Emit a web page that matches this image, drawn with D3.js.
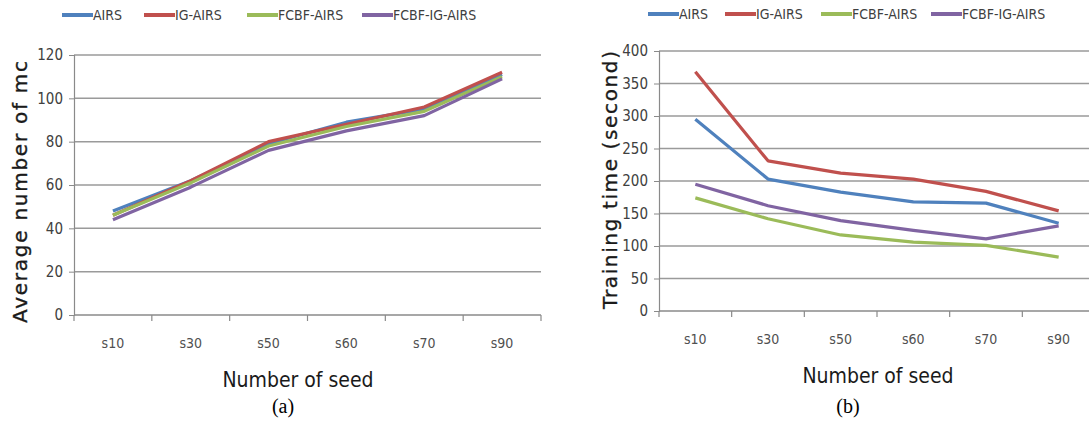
<!DOCTYPE html>
<html>
<head>
<meta charset="utf-8">
<script src="https://cdn.jsdelivr.net/npm/d3@7"></script>
<style>
  body { margin: 0; background: #fff; }
  svg { display: block; }
  .narrow { font-family: "Liberation Sans Narrow", "DejaVu Sans Condensed", "DejaVu Sans", sans-serif; font-stretch: condensed; }
</style>
</head>
<body>
<svg id="chart" width="1089" height="421"></svg>
<script>
// categories (x axis)
var seeds = ["s10", "s30", "s50", "s60", "s70", "s90"];
var seriesNames = ["AIRS", "IG-AIRS", "FCBF-AIRS", "FCBF-IG-AIRS"];
var seriesColors = ["#4F81BD", "#C0504D", "#9BBB59", "#8064A2"];

// (a) average number of mc
var mcAIRS       = [48, 62, 79, 89, 95, 111];
var mcIGAIRS     = [46, 62, 80, 88, 96, 112];
var mcFCBFAIRS   = [46, 61, 78, 87, 94, 110];
var mcFCBFIGAIRS = [44, 59, 76, 85, 92, 109];

// (b) training time (second)
var ttAIRS       = [295, 203, 183, 168, 166, 135];
var ttIGAIRS     = [368, 231, 212, 203, 184, 154];
var ttFCBFAIRS   = [174, 142, 117, 106, 101, 83];
var ttFCBFIGAIRS = [195, 162, 139, 124, 111, 131];

var mcTicks = [0, 20, 40, 60, 80, 100, 120];
var ttTicks = [0, 50, 100, 150, 200, 250, 300, 350, 400];

var svg = d3.select("#chart");

function draw(cfg) {
  var g = svg.append("g");
  var x = d3.scaleBand().domain(seeds).range([cfg.left, cfg.right]);
  var y = d3.scaleLinear().domain([0, cfg.max]).range([cfg.bottom, cfg.top]);

  // gridlines
  g.selectAll(".grid").data(cfg.ticks.slice(1)).enter().append("line")
    .attr("x1", cfg.left).attr("x2", cfg.gridEnd)
    .attr("y1", d => y(d)).attr("y2", d => y(d))
    .attr("stroke", "#9a9a9a").attr("stroke-width", 1.5);

  // y axis
  var ya = g.append("g")
    .attr("transform", "translate(" + cfg.left + ",0)")
    .call(d3.axisLeft(y).tickValues(cfg.ticks).tickSize(5).tickPadding(6));
  ya.select(".domain").attr("stroke", "#8a8a8a").attr("stroke-width", 1.2);
  ya.selectAll(".tick line").attr("stroke", "#8a8a8a");
  ya.selectAll("text").attr("class", "narrow").attr("font-size", 15)
    .attr("fill", "#404040").style("font-family", null);

  // x axis line + boundary ticks
  g.append("line").attr("x1", cfg.left).attr("x2", cfg.gridEnd)
    .attr("y1", cfg.bottom).attr("y2", cfg.bottom)
    .attr("stroke", "#8a8a8a").attr("stroke-width", 1.5);
  var bounds = seeds.map(d => x(d)).concat([x.range()[1]]);
  g.selectAll(".xt").data(bounds).enter().append("line")
    .attr("x1", d => d).attr("x2", d => d)
    .attr("y1", cfg.bottom).attr("y2", cfg.bottom + 6)
    .attr("stroke", "#8a8a8a").attr("stroke-width", 1.2);
  g.selectAll(".xl").data(seeds).enter().append("text")
    .attr("class", "narrow")
    .attr("x", d => x(d) + x.bandwidth() / 2)
    .attr("y", cfg.bottom + 33)
    .attr("text-anchor", "middle").attr("font-size", 14).attr("fill", "#505050")
    .text(d => d);

  // series lines
  var line = d3.line().x((d, i) => x(seeds[i]) + x.bandwidth() / 2).y(d => y(d));
  cfg.series.forEach(function(s, i) {
    g.append("path").datum(s)
      .attr("d", line).attr("fill", "none")
      .attr("stroke", seriesColors[i]).attr("stroke-width", 3.2)
      .attr("stroke-linejoin", "round");
  });

  // legend
  seriesNames.forEach(function(n, i) {
    var lx = cfg.legendX[i];
    g.append("line").attr("x1", lx).attr("x2", lx + 31)
      .attr("y1", cfg.legendY).attr("y2", cfg.legendY)
      .attr("stroke", seriesColors[i]).attr("stroke-width", 4);
    g.append("text").attr("class", "narrow")
      .attr("x", lx + 31).attr("y", cfg.legendY + 5)
      .attr("font-size", 14).attr("fill", "#404040")
      .text(n);
  });

  // y title
  g.append("text")
    .attr("transform", "translate(" + cfg.yTitleX + "," + cfg.yTitleY + ") rotate(-90)")
    .attr("text-anchor", "middle")
    .attr("font-family", "DejaVu Sans, sans-serif").attr("font-size", 20)
    .attr("fill", "#1a1a1a").attr("stroke", "#1a1a1a").attr("stroke-width", 0.35)
    .attr("textLength", cfg.yTitleLen).attr("lengthAdjust", "spacing")
    .text(cfg.yTitle);

  // x title + caption
  g.append("text").attr("class", "narrow")
    .attr("x", cfg.titleCx).attr("y", cfg.bottom + 72)
    .attr("text-anchor", "middle").attr("font-size", 21).attr("fill", "#1a1a1a")
    .text("Number of seed");
  g.append("text")
    .attr("x", cfg.capX).attr("y", 413)
    .attr("text-anchor", "middle")
    .attr("font-family", "Liberation Serif, serif").attr("font-size", 20).attr("fill", "#000")
    .text(cfg.caption);
}

draw({
  left: 74, right: 541, gridEnd: 541, top: 55, bottom: 315, max: 120,
  ticks: mcTicks,
  series: [mcAIRS, mcIGAIRS, mcFCBFAIRS, mcFCBFIGAIRS],
  legendX: [62, 144, 247, 362], legendY: 15,
  yTitle: "Average number of mc", yTitleX: 27, yTitleY: 192, yTitleLen: 262,
  titleCx: 298, capX: 283, caption: "(a)"
});

draw({
  left: 659, right: 1095, gridEnd: 1089, top: 51, bottom: 311, max: 400,
  ticks: ttTicks,
  series: [ttAIRS, ttIGAIRS, ttFCBFAIRS, ttFCBFIGAIRS],
  legendX: [648, 725, 821, 931], legendY: 14,
  yTitle: "Training time (second)", yTitleX: 617, yTitleY: 180, yTitleLen: 258,
  titleCx: 878, capX: 848, caption: "(b)"
});
</script>
</body>
</html>
